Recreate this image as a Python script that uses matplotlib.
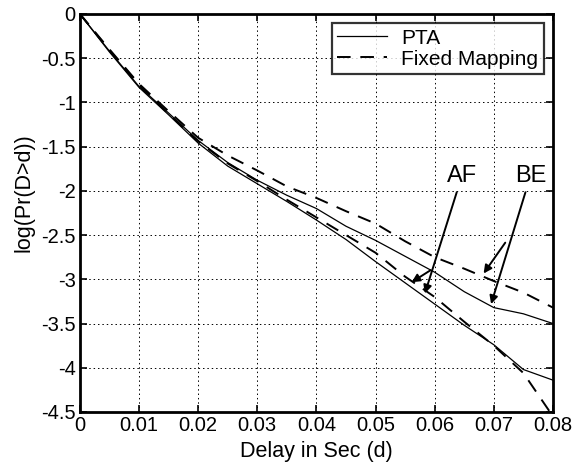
import numpy as np
import matplotlib
matplotlib.use("Agg")
import matplotlib.pyplot as plt

# delay (s) and log(Pr(D>d))
delay = [0, 0.005, 0.01, 0.015, 0.02, 0.025, 0.03, 0.035, 0.04,
         0.045, 0.05, 0.055, 0.06, 0.065, 0.07, 0.075, 0.08]

pta_be = [0, -0.42, -0.82, -1.12, -1.43, -1.68, -1.88, -2.05, -2.20,
          -2.40, -2.56, -2.74, -2.92, -3.14, -3.32, -3.39, -3.50]
pta_af = [0, -0.43, -0.83, -1.14, -1.46, -1.72, -1.92, -2.12, -2.33,
          -2.55, -2.80, -3.04, -3.28, -3.52, -3.74, -4.02, -4.14]
fixed_be = [0, -0.40, -0.79, -1.10, -1.40, -1.60, -1.77, -1.95, -2.08,
            -2.23, -2.37, -2.57, -2.75, -2.88, -3.02, -3.15, -3.32]
fixed_af = [0, -0.41, -0.80, -1.13, -1.44, -1.69, -1.89, -2.10, -2.30,
            -2.50, -2.70, -2.97, -3.20, -3.48, -3.75, -4.06, -4.55]

xticks = [0, 0.01, 0.02, 0.03, 0.04, 0.05, 0.06, 0.07, 0.08]
xticklabels = ["0", "0.01", "0.02", "0.03", "0.04", "0.05", "0.06", "0.07", "0.08"]
yticks = [0, -0.5, -1, -1.5, -2, -2.5, -3, -3.5, -4, -4.5]
yticklabels = ["0", "-0.5", "-1", "-1.5", "-2", "-2.5", "-3", "-3.5", "-4", "-4.5"]

plt.rcParams['font.family'] = ['Liberation Sans', 'DejaVu Sans']

fig = plt.figure(figsize=(5.83, 4.65), dpi=100)
ax = fig.add_axes([0.137, 0.114, 0.8115, 0.856])

ax.plot(delay, pta_be, color='black', lw=0.9, label='PTA')
ax.plot(delay, pta_af, color='black', lw=0.9)
ax.plot(delay, fixed_be, color='black', lw=1.4, ls=(0, (7, 5)), label='Fixed Mapping')
ax.plot(delay, fixed_af, color='black', lw=1.4, ls=(0, (7, 5)))

ax.set_xlim(0, 0.08)
ax.set_ylim(-4.5, 0)
ax.set_xticks(xticks)
ax.set_xticklabels(xticklabels)
ax.set_yticks(yticks)
ax.set_yticklabels(yticklabels)
ax.tick_params(direction='in', length=5, width=1.2, labelsize=14.5,
               top=True, right=True, pad=3)
for s in ax.spines.values():
    s.set_linewidth(2)
ax.grid(True, color='black', ls=(0, (1.5, 3)), lw=0.7)

ax.set_xlabel("Delay in Sec (d)", fontsize=15.5, labelpad=4)
ax.set_ylabel("log(Pr(D>d))", fontsize=15.5)
ax.yaxis.set_label_coords(-0.095, 0.55)

leg = ax.legend(loc='upper right', fontsize=15, frameon=True, fancybox=False,
                edgecolor='black', handlelength=2.4, handletextpad=0.7,
                borderaxespad=0.45, borderpad=0.25, labelspacing=0.1)
leg.get_frame().set_linewidth(1.6)

arrow = dict(arrowstyle='-|>', color='black', lw=1.4, mutation_scale=12)
ax.annotate("AF", xy=(0.0582, -3.19), xytext=(0.0646, -1.83),
            fontsize=17, ha='center', va='center', arrowprops=arrow)
ax.annotate("", xy=(0.0557, -3.05), xytext=(0.0597, -2.88), arrowprops=arrow)
ax.annotate("BE", xy=(0.0694, -3.31), xytext=(0.0762, -1.83),
            fontsize=17, ha='center', va='center', arrowprops=arrow)
ax.annotate("", xy=(0.0680, -2.96), xytext=(0.0722, -2.56), arrowprops=arrow)

fig.savefig("out.png", dpi=100)
